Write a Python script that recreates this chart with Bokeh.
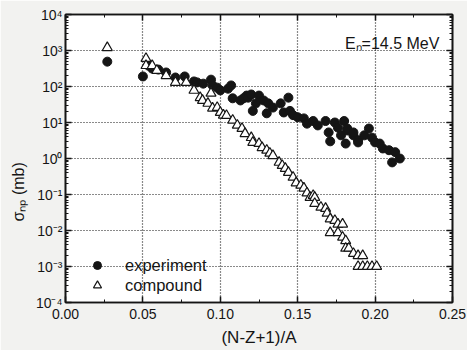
from bokeh.plotting import figure
from bokeh.models import (LinearAxis, LogAxis, FixedTicker, LogTicker, CustomJSTickFormatter,
                          Legend, LegendItem, Label, Range1d)
from bokeh.embed import file_html
from bokeh.resources import INLINE

# ---------------- data ----------------
exp_x = [0.027, 0.050, 0.0536, 0.056, 0.060, 0.065, 0.071, 0.077, 0.083, 0.085, 0.089,
         0.094, 0.095, 0.098, 0.100, 0.105, 0.107, 0.108, 0.113, 0.117,
         0.115, 0.118, 0.120, 0.125, 0.123, 0.121, 0.128, 0.131, 0.130, 0.134, 0.139,
         0.144, 0.141, 0.145, 0.147, 0.150, 0.154, 0.156, 0.160, 0.163, 0.168, 0.170,
         0.171, 0.174, 0.176, 0.178, 0.181, 0.182, 0.186, 0.189,
         0.180, 0.182, 0.186, 0.189, 0.193, 0.196, 0.198, 0.200, 0.203, 0.205, 0.209,
         0.213, 0.211, 0.216]
exp_y = [490, 190, 380, 316, 295, 245, 178, 190, 138, 130, 120,
         155, 107, 93, 78, 87, 107, 47, 41, 56,
         47, 49, 60, 56, 34, 21, 41, 34, 18, 26, 34,
         49, 19, 21, 16, 14, 13, 9.3, 11, 8.3, 11, 5.3,
         3.0, 10, 7.2, 4.4, 2.6, 6.0, 4.4, 3.2,
         11, 6.8, 5.3, 2.8, 4.4, 6.8, 3.8, 2.8, 2.6, 1.9, 1.7,
         1.5, 0.78, 1.0]

cmp_x = [0.027, 0.052, 0.052, 0.056, 0.059, 0.065, 0.071, 0.078, 0.083, 0.087, 0.0885,
         0.092, 0.094, 0.095, 0.098, 0.100, 0.102, 0.104, 0.108, 0.111, 0.114, 0.116,
         0.120, 0.121, 0.125, 0.127, 0.130, 0.132, 0.134, 0.138, 0.140, 0.142, 0.144,
         0.147, 0.149, 0.152, 0.154, 0.156, 0.158, 0.160, 0.161, 0.161, 0.165, 0.168,
         0.169, 0.171, 0.174, 0.176, 0.179, 0.171, 0.176, 0.179, 0.181, 0.181, 0.183,
         0.186, 0.189, 0.192, 0.189, 0.192, 0.195, 0.198, 0.201]
cmp_y = [1200, 600, 380, 380, 280, 200, 130, 130, 78, 49, 41,
         34, 65, 25, 26, 19, 16, 15.6, 11.5, 8.4, 6.8, 4.9,
         3.8, 2.8, 2.6, 2.0, 1.7, 1.4, 1.2, 0.78, 0.64, 0.53, 0.41,
         0.30, 0.21, 0.18, 0.15, 0.11, 0.083, 0.094, 0.083, 0.056, 0.044, 0.041,
         0.030, 0.021, 0.019, 0.015, 0.015, 0.0087, 0.0087, 0.0065, 0.0052, 0.0032, 0.0032,
         0.0023, 0.0020, 0.0020, 0.001, 0.001, 0.001, 0.001, 0.001]

x_ticks = [0.0, 0.05, 0.10, 0.15, 0.20, 0.25]
x_tick_labels = ["0.00", "0.05", "0.10", "0.15", "0.20", "0.25"]
x_minor = [0.025, 0.075, 0.125, 0.175, 0.225]

FONT = "Liberation Sans"
INK = "#151515"

p = figure(width=467, height=350, output_backend="svg", toolbar_location=None,
           x_axis_type="linear", y_axis_type="log",
           x_range=Range1d(0, 0.25), y_range=Range1d(1e-4, 1e4),
           min_border_left=65, min_border_right=15, min_border_top=14, min_border_bottom=48)
p.background_fill_color = "white"
p.border_fill_color = "#f2f2f0"
p.outline_line_color = INK
p.outline_line_width = 1.6

# axes
xt = FixedTicker(ticks=x_ticks, minor_ticks=x_minor)
yt = LogTicker(num_minor_ticks=10)
sup = CustomJSTickFormatter(code="""
const e = Math.round(Math.log10(tick));
const m = {'-':'\u207b','0':'\u2070','1':'\u00b9','2':'\u00b2','3':'\u00b3','4':'\u2074',
           '5':'\u2075','6':'\u2076','7':'\u2077','8':'\u2078','9':'\u2079'};
return '10' + String(e).split('').map(c => m[c]).join('');
""")
blank = CustomJSTickFormatter(code="return '';")

xa = p.xaxis[0]
xa.ticker = xt
xa.major_label_overrides = {t: l for t, l in zip(x_ticks, x_tick_labels)}
xa.axis_label = "(N-Z+1)/A"
ya = p.yaxis[0]
ya.ticker = yt
ya.formatter = sup
ya.axis_label = "σₙₚ (mb)" + "\u00a0" * 15

top = LinearAxis(ticker=xt, formatter=blank)
right = LogAxis(ticker=yt, formatter=blank)
p.add_layout(top, "above")
p.add_layout(right, "right")

for ax in [xa, ya, top, right]:
    ax.axis_line_color = INK
    ax.axis_line_width = 1.6
    ax.major_tick_in = 6
    ax.major_tick_out = 0
    ax.minor_tick_in = 3
    ax.minor_tick_out = 0
    ax.major_tick_line_color = INK
    ax.minor_tick_line_color = INK
    ax.major_tick_line_width = 1.5
    ax.minor_tick_line_width = 1
    ax.major_label_text_color = INK
    ax.major_label_text_font = FONT
    ax.axis_label_text_color = INK
    ax.axis_label_text_font = FONT
    ax.axis_label_text_font_style = "normal"

top.major_label_standoff = 0
right.major_label_standoff = 0
xa.major_label_text_font_size = "14px"
ya.major_label_text_font_size = "14px"
xa.major_label_standoff = 6
ya.major_label_standoff = 3
xa.axis_label_text_font_size = "17px"
xa.axis_label_standoff = 6
ya.axis_label_text_font_size = "16px"
ya.axis_label_standoff = 6

# grid
for g in [p.xgrid[0], p.ygrid[0]]:
    g.grid_line_color = INK
    g.grid_line_dash = "1 2"
    g.grid_line_width = 1.2
p.xgrid[0].ticker = xt
p.ygrid[0].ticker = yt

# data
r_exp = p.scatter(exp_x, exp_y, marker="circle", size=9, fill_color=INK, line_color=INK)
r_cmp = p.scatter(cmp_x, cmp_y, marker="triangle", size=10, fill_color="white",
                  line_color=INK, line_width=1.2)

legend = Legend(items=[LegendItem(label="experiment", renderers=[r_exp]),
                       LegendItem(label="compound", renderers=[r_cmp])],
                location=(22, 7), padding=0, margin=0, spacing=0,
                glyph_width=20, glyph_height=20, label_standoff=18,
                label_text_font=FONT, label_text_font_size="16.5px", label_text_color=INK,
                background_fill_alpha=0, border_line_alpha=0)
p.add_layout(legend, "center")

p.add_layout(Label(x=0.1805, y=1600, text="Eₙ=14.5 MeV", text_font=FONT,
                   text_font_size="16px", text_color=INK, text_baseline="middle"))

open("out.html", "w").write(file_html(p, INLINE))
